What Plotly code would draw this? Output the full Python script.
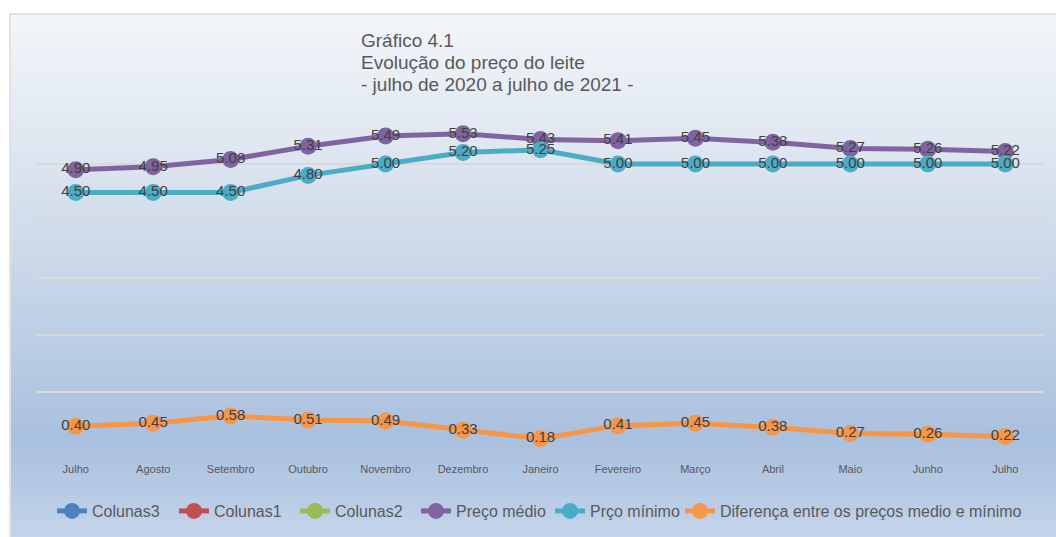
import plotly.graph_objects as go

# ---- data ----
months = ["Julho", "Agosto", "Setembro", "Outubro", "Novembro", "Dezembro", "Janeiro",
          "Fevereiro", "Março", "Abril", "Maio", "Junho", "Julho"]
colunas3 = [None] * 13
colunas1 = [None] * 13
colunas2 = [None] * 13
preco_medio = [4.90, 4.95, 5.08, 5.31, 5.49, 5.53, 5.43, 5.41, 5.45, 5.38, 5.27, 5.26, 5.22]
preco_minimo = [4.50, 4.50, 4.50, 4.80, 5.00, 5.20, 5.25, 5.00, 5.00, 5.00, 5.00, 5.00, 5.00]
diferenca = [0.40, 0.45, 0.58, 0.51, 0.49, 0.33, 0.18, 0.41, 0.45, 0.38, 0.27, 0.26, 0.22]
title_lines = ["Gráfico 4.1", "Evolução do preço do leite", "- julho de 2020 a julho de 2021 -"]

series = [
    ("Colunas3", colunas3, "#4F81BD"),
    ("Colunas1", colunas1, "#C0504D"),
    ("Colunas2", colunas2, "#9BBB59"),
    ("Preço médio", preco_medio, "#8064A2"),
    ("Prço mínimo", preco_minimo, "#4BACC6"),
    ("Diferença entre os preços medio e mínimo", diferenca, "#F79646"),
]
# legend symbol centres (screen px)
legend_x = [72, 194, 315, 436, 570, 700]

W, H = 1056, 537
# plot area in screen px: x 37..1044, y 107..449
L, R, T, B = 37, W - 1044, 107, H - 449
PW, PH = W - L - R, H - T - B

def px(xs):
    return (xs - L) / PW

def py(ys):
    return (H - B - ys) / PH

FONT = "Liberation Sans, Arial, sans-serif"
idx = list(range(len(months)))

fig = go.Figure()
legends = {}
for i, (name, vals, col) in enumerate(series):
    lname = "legend" if i == 0 else "legend%d" % (i + 1)
    fig.add_trace(go.Scatter(
        x=idx, y=vals, name=name, mode="lines+markers+text",
        line=dict(color=col, width=5),
        marker=dict(color=col, size=17),
        text=[("%.2f" % v) if v is not None else "" for v in vals],
        textposition="middle center",
        textfont=dict(family=FONT, size=15, color="#404040"),
        cliponaxis=False,
        hoverinfo="skip",
        legend=lname,
    ))
    legends[lname] = dict(orientation="h", x=px(legend_x[i] - 20), xanchor="left",
                          y=py(511), yanchor="middle",
                          font=dict(family=FONT, size=16, color="#595959"),
                          bgcolor="rgba(0,0,0,0)", itemclick=False, itemdoubleclick=False)

# background gradient (stripes)
stops = [(15, (243, 246, 250)), (150, (222, 230, 240)), (300, (196, 211, 231)),
         (440, (169, 192, 222)), (537, (196, 212, 234))]

def col_at(y):
    for (y0, c0), (y1, c1) in zip(stops, stops[1:]):
        if y0 <= y <= y1:
            t = (y - y0) / (y1 - y0)
            return "rgb(%d,%d,%d)" % tuple(round(a + (b - a) * t) for a, b in zip(c0, c1))
    return "rgb(%d,%d,%d)" % stops[-1][1]

shapes = []
step = 4
y = 15
while y < H:
    y2 = min(y + step, H)
    shapes.append(dict(type="rect", xref="paper", yref="paper", layer="below",
                       x0=px(11), x1=px(W + 2), y0=py(y2 + 0.5), y1=py(y),
                       fillcolor=col_at((y + y2) / 2), line=dict(width=0)))
    y = y2
# border
shapes.append(dict(type="rect", xref="paper", yref="paper", layer="below",
                   x0=px(10), x1=px(W + 5), y0=py(H + 5), y1=py(14),
                   fillcolor="rgba(0,0,0,0)", line=dict(color="#D9D9D9", width=1.5)))

annotations = []
for k, line in enumerate(title_lines):
    annotations.append(dict(
        text=line, xref="paper", yref="paper", x=px(359), y=py(40 + 22 * k),
        xanchor="left", yanchor="middle", align="left", showarrow=False,
        font=dict(family=FONT, size=19, color="#595959")))

fig.update_layout(
    width=W, height=H,
    margin=dict(l=L, r=R, t=T, b=B, autoexpand=False),
    paper_bgcolor="white", plot_bgcolor="rgba(0,0,0,0)",
    shapes=shapes,
    showlegend=True,
    hovermode=False,
    xaxis=dict(range=[-0.5, 12.5], tickmode="array", tickvals=idx, ticktext=months,
               showgrid=False, zeroline=False, showline=False,
               ticks="outside", ticklen=10, tickcolor="rgba(0,0,0,0)",
               tickfont=dict(family=FONT, size=11, color="#595959"), fixedrange=True),
    yaxis=dict(range=[0, 6], dtick=1, showticklabels=False, showgrid=True,
               gridcolor="#D9D9D9", gridwidth=1.5, zeroline=False, showline=False,
               fixedrange=True),
    annotations=annotations,
    **legends,
)

fig.write_html("out.html", config={"displayModeBar": False},
               post_script="document.body.style.margin='0';document.body.style.overflow='hidden';")
